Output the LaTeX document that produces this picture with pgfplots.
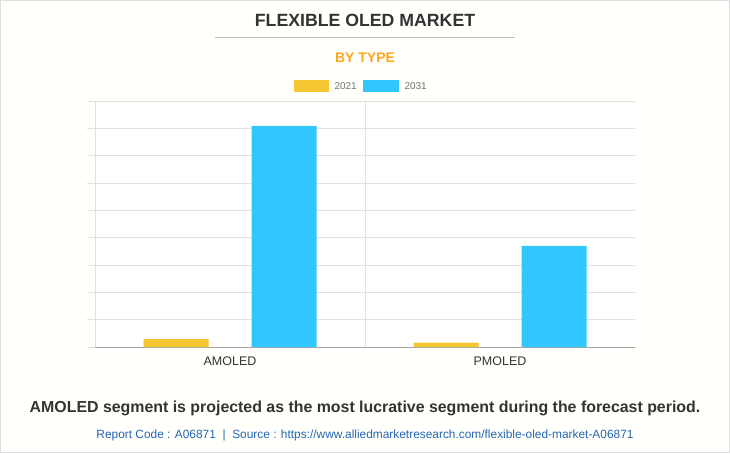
\documentclass[border=0pt]{standalone}
\usepackage{pgfplots}
\pgfplotsset{compat=1.18}
\usepackage{fontspec}
\setmainfont{Liberation Sans}
\definecolor{barY}{RGB}{245,197,50}
\definecolor{barC}{RGB}{50,198,255}
\definecolor{gridc}{RGB}{225,225,225}
\definecolor{titlec}{RGB}{51,51,51}
\definecolor{orangec}{RGB}{255,166,33}
\definecolor{linkc}{RGB}{38,102,178}
\begin{document}
\begin{tikzpicture}[x=1pt,y=1pt]
\path[use as bounding box] (0,0) rectangle (730,453);
\draw[draw=gray!25,fill=white!99!yellow] (0.5,0.5) rectangle (729.5,452.5);
% titles
\node[font=\fontsize{17.7}{20}\selectfont\bfseries,text=titlec] at (365,433) {FLEXIBLE OLED MARKET};
\draw[gray!50,line width=0.8pt] (215,416) -- (515,416);
\node[font=\fontsize{14}{16}\selectfont\bfseries,text=orangec] at (365,395) {BY TYPE};
% legend
\fill[barY] (294,361) rectangle (329,373);
\node[anchor=west,font=\fontsize{10}{12}\selectfont,text=gray!90!black] at (331,367) {2021};
\fill[barC] (363,361) rectangle (399,373);
\node[anchor=west,font=\fontsize{10}{12}\selectfont,text=gray!90!black] at (401,367) {2031};
\begin{axis}[
    at={(95pt,106pt)}, anchor=south west,
    width=540pt, height=246pt, scale only axis,
    ybar=0pt, bar width=65pt,
    xmin=-0.5, xmax=1.5, ymin=0, ymax=9,
    xtick={0,1}, xticklabels={AMOLED,PMOLED},
    extra x ticks={0.5}, extra x tick labels={},
    extra x tick style={grid=major, major grid style={gridc,line width=0.8pt}, major tick length=0pt},
    ytick={0,1,...,9}, yticklabels={},
    ymajorgrids, major grid style={gridc,line width=0.8pt},
    major tick length=8pt,
    ytick style={gridc,line width=0.8pt},
    ytick align=outside, xtick style={draw=none},
    tick label style={font=\fontsize{12.5}{15}\selectfont, text=titlec},
    xticklabel style={yshift=2pt},
    axis x line*=bottom, axis y line*=left,
    x axis line style={draw=gray!70,line width=0.8pt,-},
    y axis line style={draw=gridc,line width=0.8pt,-},
    axis background/.style={fill=white},
    clip=false,
]
\addplot[fill=barY, draw=none, bar shift=-54pt] coordinates {(0,0.29) (1,0.16)};
\addplot[fill=barC, draw=none, bar shift=54pt] coordinates {(0,8.09) (1,3.70)};
\end{axis}
% footer
\node[font=\fontsize{15.9}{19}\selectfont\bfseries,text=titlec] at (365,45) {AMOLED segment is projected as the most lucrative segment during the forecast period.};
\node[font=\fontsize{11.9}{14}\selectfont,text=linkc] at (365,18) {Report Code : A06871~~|~~Source : https://www.alliedmarketresearch.com/flexible-oled-market-A06871};
\end{tikzpicture}
\end{document}
